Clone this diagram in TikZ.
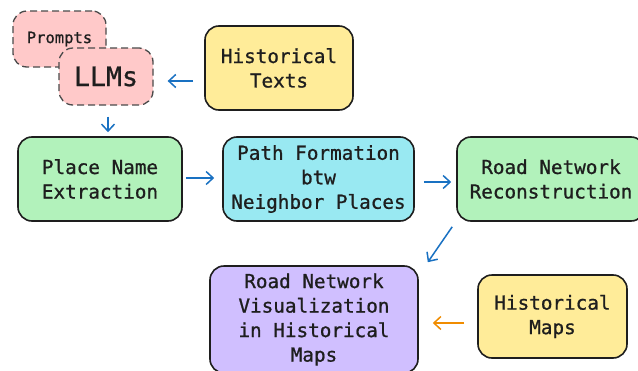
\documentclass[tikz,border=0pt]{standalone}
\usepackage{fontspec}
\newfontfamily\medmono[FakeBold=0.9]{DejaVu Sans Mono}
\usetikzlibrary{arrows.meta}
\definecolor{ink}{HTML}{1E1E1E}
\definecolor{cpink}{HTML}{FFC9C9}
\definecolor{cyellow}{HTML}{FFEC99}
\definecolor{cgreen}{HTML}{B2F2BB}
\definecolor{ccyan}{HTML}{99E9F2}
\definecolor{cpurple}{HTML}{D0BFFF}
\definecolor{cblue}{HTML}{1971C2}
\definecolor{corange}{HTML}{F08C00}
\tikzset{
  boxnode/.style={draw=ink, line width=1.6pt, rounded corners=14pt, align=center, inner sep=0pt,
    text=ink, font=\medmono\fontsize{19.3}{24.5}\selectfont},
  dashbox/.style={boxnode, draw=ink!80, line width=1.3pt, dash pattern=on 7pt off 4pt},
  arr/.style={line width=1.5pt, -{Straight Barb[length=7pt,width=13pt,line width=1.5pt]}},
}
\begin{document}
\begin{tikzpicture}[x=1pt,y=-1pt]
\useasboundingbox (0,0) rectangle (638,370);
\clip (0,0) rectangle (638,370);
\fill[white] (0,0) rectangle (638,370);
\node[dashbox, fill=cpink, minimum width=93pt, minimum height=56pt, font=\medmono\fontsize{15.5}{18}\selectfont] (prompts) at (59.5,39) {Prompts};
\node[dashbox, fill=cpink, minimum width=94pt, minimum height=57pt, font=\medmono\fontsize{26.6}{30}\selectfont] (llms) at (106,76.5) {LLMs};
\node[boxnode, fill=cyellow, minimum width=148pt, minimum height=84pt] (texts) at (279,68) {Historical\\Texts};
\node[boxnode, fill=cgreen, minimum width=164pt, minimum height=84pt] (place) at (100,179) {Place Name\\Extraction};
\node[boxnode, fill=ccyan, minimum width=191pt, minimum height=84pt] (path) at (318.5,179) {Path Formation\\btw\\Neighbor Places};
\node[boxnode, fill=cgreen, minimum width=188pt, minimum height=84pt] (recon) at (551,179) {Road Network\\Reconstruction};
\node[boxnode, fill=cpurple, minimum width=208pt, minimum height=107pt] (vis) at (314,319.5) {Road Network\\Visualization\\in Historical\\Maps};
\node[boxnode, fill=cyellow, minimum width=149pt, minimum height=83pt] (maps) at (552.5,316.5) {Historical\\Maps};

\draw[arr, cblue, shorten <=11pt, shorten >=14pt] ([yshift=-13pt]texts.west) -- ([yshift=-4.5pt]llms.east);
\draw[arr, cblue, shorten <=11pt, shorten >=4pt] ([xshift=2pt]llms.south) -- ([xshift=8pt]place.north);
\draw[arr, cblue, shorten <=3pt, shorten >=8pt] ([yshift=1pt]place.east) -- ([yshift=1pt]path.west);
\draw[arr, cblue, shorten <=9pt, shorten >=5pt] ([yshift=-3pt]path.east) -- ([yshift=-3pt]recon.west);
\draw[arr, cblue] ([xshift=-4pt,yshift=-5pt]recon.south west) -- ([xshift=9pt,yshift=3pt]vis.north east);
\draw[arr, corange, shorten <=13pt, shorten >=14pt] ([yshift=-6.5pt]maps.west) -- ([yshift=-3.5pt]vis.east);
\end{tikzpicture}
\end{document}
